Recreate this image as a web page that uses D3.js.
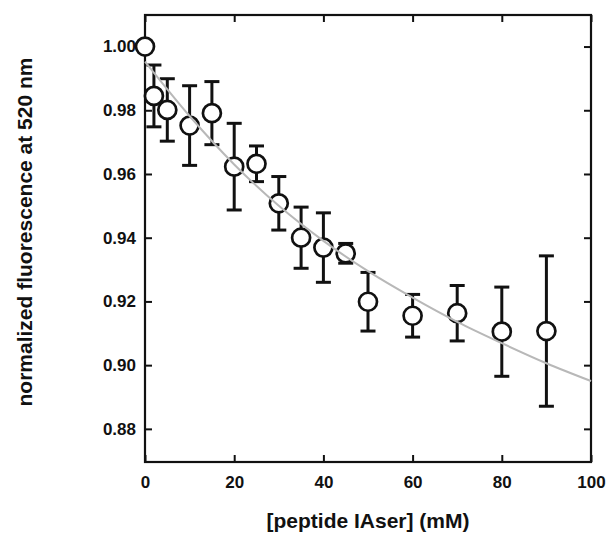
<!DOCTYPE html>
<html>
<head>
<meta charset="utf-8">
<script src="https://cdn.jsdelivr.net/npm/d3@7"></script>
<style>
  body { margin: 0; background: #fff; }
  svg { display: block; font-family: "Liberation Sans", Arial, sans-serif; }
  .axis text { font-size: 17px; font-weight: bold; fill: #111; }
  .axis line { stroke: #111; stroke-width: 2px; }
  .axis path { display: none; }
  .title { font-size: 21px; font-weight: bold; fill: #111; }
</style>
</head>
<body>
<div id="chart"></div>
<script>
// measured points
const conc = [0, 2, 5, 10, 15, 20, 25, 30, 35, 40, 45, 50, 60, 70, 80, 90];
const fluor = [1.000, 0.9845, 0.9801, 0.9752, 0.9791, 0.9623, 0.9632, 0.9508, 0.9400, 0.9369, 0.9351, 0.9199, 0.9155, 0.9163, 0.9105, 0.9107];
const fluorErr = [0, 0.0097, 0.0098, 0.0125, 0.0099, 0.0136, 0.0056, 0.0084, 0.0096, 0.0109, 0.0031, 0.0092, 0.0067, 0.0087, 0.0140, 0.0236];

// fitted curve
const fitX = [0, 10, 20, 30, 40, 50, 60, 70, 80, 90, 100];
const fitY = [0.9953, 0.9782, 0.9630, 0.9500, 0.9390, 0.9295, 0.9212, 0.9136, 0.9069, 0.9006, 0.8950];

const xTicks = [0, 20, 40, 60, 80, 100];
const yTicks = [0.88, 0.90, 0.92, 0.94, 0.96, 0.98, 1.00];

const width = 608;
const height = 535;
const plotL = 145, plotR = 591, plotT = 15, plotB = 462;

const svg = d3.select('#chart')
    .append('svg')
    .attr('width', width)
    .attr('height', height);

const x = d3.scaleLinear().domain([0, 100]).range([plotL, plotR]);
const y = d3.scaleLinear().domain([0.8696, 1.0099]).range([plotB, plotT]);

// axes, ticks pointing inward
svg.append('g')
    .attr('class', 'axis')
    .attr('transform', `translate(0,${plotB})`)
    .call(d3.axisBottom(x).tickValues(xTicks).tickSizeInner(-7).tickSizeOuter(0).tickPadding(14).tickFormat(d3.format('d')));

svg.append('g')
    .attr('class', 'axis')
    .attr('transform', `translate(0,${plotT})`)
    .call(d3.axisTop(x).tickValues(xTicks).tickSizeInner(-7).tickSizeOuter(0).tickFormat(''));

svg.append('g')
    .attr('class', 'axis')
    .attr('transform', `translate(${plotL},0)`)
    .call(d3.axisLeft(y).tickValues(yTicks).tickSizeInner(-7).tickSizeOuter(0).tickPadding(9).tickFormat(d3.format('.2f')));

svg.append('g')
    .attr('class', 'axis')
    .attr('transform', `translate(${plotR},0)`)
    .call(d3.axisRight(y).tickValues(yTicks).tickSizeInner(-7).tickSizeOuter(0).tickFormat(''));

svg.append('rect')
    .attr('x', plotL)
    .attr('y', plotT)
    .attr('width', plotR - plotL)
    .attr('height', plotB - plotT)
    .attr('fill', 'none')
    .attr('stroke', '#111')
    .attr('stroke-width', 2.2);

const points = conc.map((c, i) => ({ c: c, v: fluor[i], e: fluorErr[i] }));

// error bars
const bars = svg.append('g')
    .attr('stroke', '#111')
    .attr('stroke-width', 3)
    .selectAll('g')
    .data(points.filter(d => d.e > 0))
    .enter()
    .append('g');

bars.append('line')
    .attr('x1', d => x(d.c))
    .attr('x2', d => x(d.c))
    .attr('y1', d => y(d.v + d.e))
    .attr('y2', d => y(d.v - d.e));

bars.append('line')
    .attr('x1', d => x(d.c) - 7.5)
    .attr('x2', d => x(d.c) + 7.5)
    .attr('y1', d => y(d.v + d.e))
    .attr('y2', d => y(d.v + d.e));

bars.append('line')
    .attr('x1', d => x(d.c) - 7.5)
    .attr('x2', d => x(d.c) + 7.5)
    .attr('y1', d => y(d.v - d.e))
    .attr('y2', d => y(d.v - d.e));

// markers
svg.append('g')
    .selectAll('circle')
    .data(points)
    .enter()
    .append('circle')
    .attr('cx', d => x(d.c))
    .attr('cy', d => y(d.v))
    .attr('r', 9)
    .attr('fill', '#fff')
    .attr('stroke', '#111')
    .attr('stroke-width', 2.7);

// fit line
const line = d3.line()
    .x((d, i) => x(fitX[i]))
    .y(d => y(d))
    .curve(d3.curveMonotoneX);

svg.append('path')
    .datum(fitY)
    .attr('d', line)
    .attr('fill', 'none')
    .attr('stroke', '#b8b8b8')
    .attr('stroke-width', 2);

// titles
svg.append('text')
    .attr('class', 'title')
    .attr('x', (plotL + plotR) / 2)
    .attr('y', 528)
    .attr('text-anchor', 'middle')
    .text('[peptide IAser] (mM)');

svg.append('text')
    .attr('class', 'title')
    .attr('transform', 'translate(32,232) rotate(-90)')
    .attr('text-anchor', 'middle')
    .text('normalized fluorescence at 520 nm');
</script>
</body>
</html>
